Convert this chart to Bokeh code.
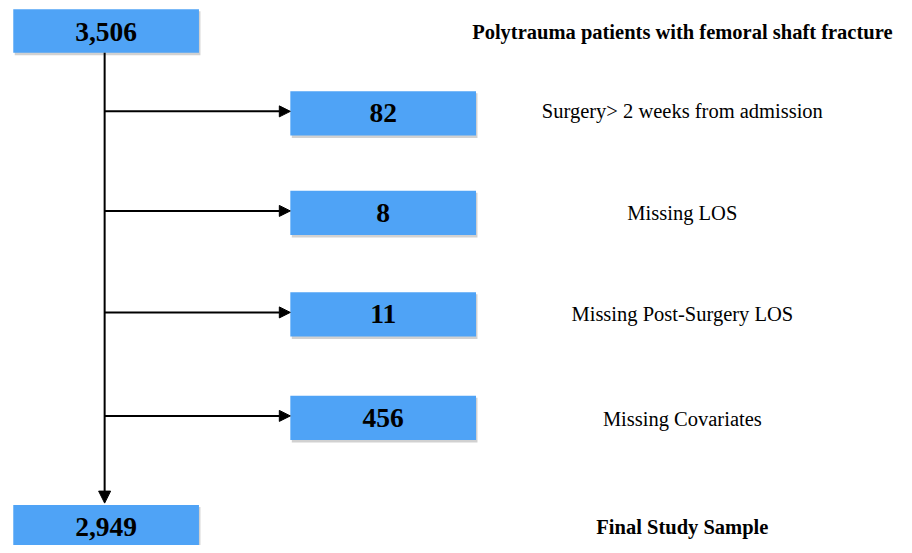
from bokeh.plotting import figure
from bokeh.models import ColumnDataSource, Arrow, NormalHead
from bokeh.core.properties import value
from bokeh.embed import file_html
from bokeh.resources import INLINE

# ---- data ----
top_count = "3,506"
top_label = "Polytrauma patients with femoral shaft fracture"
excl_counts = ["82", "8", "11", "456"]
excl_labels = ["Surgery> 2 weeks from admission", "Missing LOS",
               "Missing Post-Surgery LOS", "Missing Covariates"]
final_count = "2,949"
final_label = "Final Study Sample"

# ---- layout (reference-pixel coordinates, drawn on a 896x545 canvas) ----
W, H = 896, 545
REF_W, REF_H = 912, 553
main_x0, main_x1 = 13, 202
side_x0, side_x1 = 295, 484
label_cx = 694
spine_x = 106
top_y0, top_y1 = 9, 53
excl_y0 = [92, 193, 296, 401]
excl_h = 45
final_y0, final_y1 = 512, 560
label_mid = [31.5, 112.5, 215.5, 318, 424.5, 534.5]
BLUE = "#4fa3f6"

p = figure(width=W, height=H, x_range=(0, REF_W), y_range=(REF_H, 0),
           output_backend="svg", toolbar_location=None, min_border=0)
p.axis.visible = False
p.grid.visible = False
p.outline_line_color = None
p.background_fill_color = "white"

# boxes
bx0 = [main_x0] + [side_x0] * 4 + [main_x0]
bx1 = [main_x1] + [side_x1] * 4 + [main_x1]
by0 = [top_y0] + excl_y0 + [final_y0]
by1 = [top_y1] + [y + excl_h for y in excl_y0] + [final_y1]
counts = [top_count] + excl_counts + [final_count]
labels = [top_label] + excl_labels + [final_label]

shadow = ColumnDataSource(dict(l=[a + 1.5 for a in bx0], r=[a + 1.5 for a in bx1],
                               t=[a + 2 for a in by0], b=[a + 2.5 for a in by1]))
p.quad(left="l", right="r", top="t", bottom="b", source=shadow,
       fill_color="#999999", fill_alpha=0.45, line_color=None)
boxes = ColumnDataSource(dict(l=bx0, r=bx1, t=by0, b=by1,
                              cx=[(a + b) / 2 for a, b in zip(bx0, bx1)],
                              cy=[a + 22.5 for a in by0],
                              txt=counts))
p.quad(left="l", right="r", top="t", bottom="b", source=boxes,
       fill_color=BLUE, line_color=None)
p.text(x="cx", y="cy", text="txt", source=boxes, text_align="center",
       text_baseline="middle", text_font=value("Liberation Serif"),
       text_font_size="27.5px", text_font_style="bold", text_color="black")

# spine with arrow to final box
p.add_layout(Arrow(x_start=spine_x, y_start=top_y1, x_end=spine_x, y_end=final_y0 - 2,
                   line_color="black", line_width=2,
                   end=NormalHead(size=12, fill_color="black", line_color="black")))
# branch arrows
for y in excl_y0:
    yc = y + excl_h / 2 - 2
    p.add_layout(Arrow(x_start=spine_x, y_start=yc, x_end=side_x0, y_end=yc,
                       line_color="black", line_width=2,
                       end=NormalHead(size=11, fill_color="black", line_color="black")))

# labels
bold_src = ColumnDataSource(dict(x=[label_cx, label_cx],
                                 y=[label_mid[0], label_mid[-1]],
                                 t=[labels[0], labels[-1]]))
p.text(x="x", y="y", text="t", source=bold_src, text_align="center",
       text_baseline="middle", text_font=value("Liberation Serif"),
       text_font_size="20.5px", text_font_style="bold", text_color="black")
norm_src = ColumnDataSource(dict(x=[label_cx] * 4, y=label_mid[1:5], t=labels[1:5]))
p.text(x="x", y="y", text="t", source=norm_src, text_align="center",
       text_baseline="middle", text_font=value("Liberation Serif"),
       text_font_size="20.5px", text_color="black")

open("out.html", "w").write(file_html(p, INLINE))
